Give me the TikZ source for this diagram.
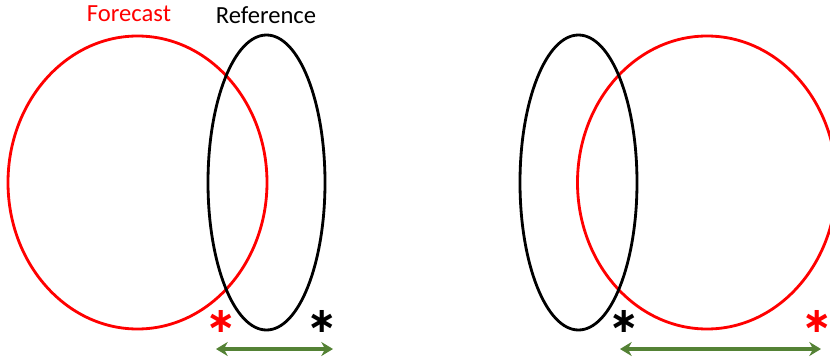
\documentclass[tikz,border=0pt]{standalone}
\usepackage{fontspec}
\setmainfont{Carlito}
\newfontfamily\starfont{DejaVu Sans}
\usetikzlibrary{arrows.meta}
\definecolor{fcred}{RGB}{255,0,0}
\definecolor{spread}{RGB}{84,130,53}
\tikzset{
  fcline/.style={draw=fcred, line width=2.4pt},
  refline/.style={draw=black, line width=2.4pt},
  star/.style={font=\starfont\bfseries\fontsize{30}{30}\selectfont, inner sep=0pt},
  gap/.style={draw=spread, line width=2.8pt, {Stealth[length=10pt,width=12pt]}-{Stealth[length=10pt,width=12pt]}},
}
\begin{document}
\begin{tikzpicture}[x=0.03cm, y=-0.03cm]
        \useasboundingbox (0,0) rectangle (830,360);
        % \draw[help lines, gray!50, very thin] (0,0) grid[step=50] (830,360);

        % left pair
        \draw[fcline] (137.5,182.5) ellipse (129.5 and 146.5);
        \draw[refline] (266.5,182.5) ellipse (58.5 and 147.5);
        \node[text=fcred, font=\fontsize{21}{21}\selectfont] (fcname) at (129,14) {Forecast};
        \node[font=\fontsize{21}{21}\selectfont] (refname) at (266,15) {Reference};
        \node[star, text=fcred] (fcstarA) at (221,321) {∗};
        \node[star] (refstarA) at (322,321) {∗};
        \coordinate (gapAl) at (216,349);
        \coordinate (gapAr) at (333,349);
        \draw[gap] (gapAl) -- (gapAr);

        % right pair
        \begin{scope}
          \clip (0,0) rectangle (830,360);
          \draw[fcline] (707,182.5) ellipse (129.5 and 146.5);
        \end{scope}
        \draw[refline] (578.5,182.5) ellipse (58.5 and 147.5);
        \node[star] (refstarB) at (624,321) {∗};
        \node[star, text=fcred] (fcstarB) at (817,321) {∗};
        \coordinate (gapBl) at (620,349);
        \coordinate (gapBr) at (821,349);
        \draw[gap] (gapBl) -- (gapBr);
      \end{tikzpicture}
\end{document}
